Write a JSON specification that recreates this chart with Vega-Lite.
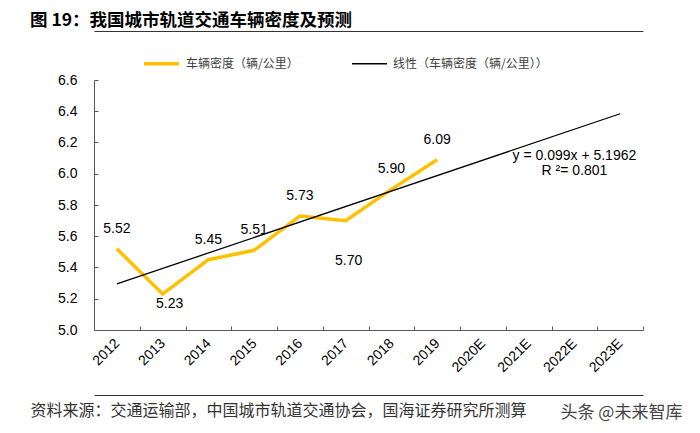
{
  "$schema": "https://vega.github.io/schema/vega-lite/v6.json",
  "width": 549,
  "height": 250,
  "autosize": {"type": "none"},
  "padding": {"left": 94, "top": 80, "right": 57, "bottom": 103},
  "background": "white",
  "config": {"view": {"stroke": null}, "font": "Liberation Sans"},
  "title": {
    "text": "图 19：我国城市轨道交通车辆密度及预测",
    "anchor": "start",
    "frame": "group",
    "dx": -64,
    "offset": 6,
    "dy": 22,
    "baseline": "bottom",
    "font": "Noto Sans CJK SC",
    "fontSize": 17.5,
    "fontWeight": "bold",
    "color": "#000000"
  },
  "data": {
    "values": [
      {"year": "2012", "value": 5.52, "series": "车辆密度（辆/公里）"},
      {"year": "2013", "value": 5.23, "series": "车辆密度（辆/公里）"},
      {"year": "2014", "value": 5.45, "series": "车辆密度（辆/公里）"},
      {"year": "2015", "value": 5.51, "series": "车辆密度（辆/公里）"},
      {"year": "2016", "value": 5.73, "series": "车辆密度（辆/公里）"},
      {"year": "2017", "value": 5.70, "series": "车辆密度（辆/公里）"},
      {"year": "2018", "value": 5.90, "series": "车辆密度（辆/公里）"},
      {"year": "2019", "value": 6.09, "series": "车辆密度（辆/公里）"},
      {"year": "2012", "value": 5.295, "series": "线性（车辆密度（辆/公里））"},
      {"year": "2023E", "value": 6.384, "series": "线性（车辆密度（辆/公里））"},
      {"year": "2022E", "value": 6.114, "series": "annotation", "label": "y = 0.099x + 5.1962"},
      {"year": "2022E", "value": 6.018, "series": "annotation", "label": "R ²= 0.801"}
    ]
  },
  "encoding": {
    "y": {
      "field": "value",
      "type": "quantitative",
      "scale": {"domain": [5.0, 6.6], "nice": false, "zero": false},
      "axis": {
        "values": [5.0, 5.2, 5.4, 5.6, 5.8, 6.0, 6.2, 6.4, 6.6],
        "format": ".1f",
        "title": null,
        "labelFontSize": 14,
        "labelColor": "#000000",
        "labelPadding": 21,
        "labelOverlap": false,
        "tickSize": -4,
        "tickColor": "#595959",
        "domainColor": "#595959",
        "grid": false
      }
    }
  },
  "layer": [
    {
      "transform": [{"filter": "datum.series === '车辆密度（辆/公里）'"}],
      "mark": {"type": "line", "strokeJoin": "miter"},
      "encoding": {
        "x": {
          "field": "year",
          "type": "ordinal",
          "bandPosition": 0.5,
          "scale": {
            "type": "band",
            "domain": ["2012", "2013", "2014", "2015", "2016", "2017", "2018", "2019", "2020E", "2021E", "2022E", "2023E"],
            "paddingInner": 0,
            "paddingOuter": 0
          },
          "axis": {
            "title": "资料来源：交通运输部，中国城市轨道交通协会，国海证券研究所测算",
            "titleX": -64,
            "titleY": 80,
            "titleAlign": "left",
            "titleAnchor": "start",
            "titleBaseline": "middle",
            "titleFont": "Noto Sans CJK SC",
            "titleFontSize": 16,
            "titleFontWeight": "normal",
            "titleColor": "#333333",
            "labelAngle": -45,
            "labelAlign": "right",
            "labelBaseline": "middle",
            "labelFontSize": 14,
            "labelColor": "#000000",
            "labelPadding": 15,
            "labelOverlap": false,
            "tickBand": "extent",
            "tickSize": -4,
            "tickColor": "#595959",
            "domainColor": "#595959",
            "grid": false
          }
        },
        "color": {
          "field": "series",
          "type": "ordinal",
          "scale": {
            "domain": ["车辆密度（辆/公里）", "线性（车辆密度（辆/公里））"],
            "range": ["#FFC000", "#000000"]
          },
          "legend": {
            "orient": "none",
            "legendX": 48,
            "legendY": -36,
            "direction": "horizontal",
            "title": null,
            "symbolType": "stroke",
            "symbolSize": 1225,
            "labelFont": "Noto Sans CJK SC",
            "labelFontSize": 12,
            "labelColor": "#404040",
            "labelOffset": 5,
            "columnPadding": 50,
            "padding": 0
          }
        },
        "strokeWidth": {
          "field": "series",
          "type": "ordinal",
          "scale": {
            "domain": ["车辆密度（辆/公里）", "线性（车辆密度（辆/公里））"],
            "range": [3.5, 1.3]
          },
          "legend": {
            "orient": "none",
            "legendX": 48,
            "legendY": -36,
            "direction": "horizontal",
            "title": null,
            "symbolType": "stroke",
            "symbolSize": 1225,
            "labelFont": "Noto Sans CJK SC",
            "labelFontSize": 12,
            "labelColor": "#404040",
            "labelOffset": 5,
            "columnPadding": 50,
            "padding": 0
          }
        }
      }
    },
    {
      "transform": [{"filter": "datum.series === '线性（车辆密度（辆/公里））'"}],
      "mark": {"type": "line"},
      "encoding": {
        "x": {
          "field": "year",
          "type": "ordinal",
          "bandPosition": 0.5,
          "axis": {
            "orient": "top",
            "offset": 49,
            "labels": false,
            "ticks": false,
            "title": null,
            "domainColor": "#333333",
            "domainWidth": 1.2,
            "grid": false
          }
        },
        "color": {"field": "series", "type": "ordinal"},
        "strokeWidth": {"field": "series", "type": "ordinal"}
      }
    },
    {
      "transform": [
        {"filter": "datum.series === '车辆密度（辆/公里）' && datum.year !== '2013' && datum.year !== '2017'"}
      ],
      "mark": {"type": "text", "dy": -20, "baseline": "middle", "fontSize": 14, "color": "#000000"},
      "encoding": {
        "x": {"field": "year", "type": "ordinal", "bandPosition": 0.5, "axis": null},
        "text": {"field": "value", "type": "quantitative", "format": ".2f"}
      }
    },
    {
      "transform": [{"filter": "datum.series === '车辆密度（辆/公里）' && datum.year === '2013'"}],
      "mark": {"type": "text", "dy": 10, "dx": 7, "baseline": "middle", "fontSize": 14, "color": "#000000"},
      "encoding": {
        "x": {"field": "year", "type": "ordinal", "bandPosition": 0.5, "axis": null},
        "text": {"field": "value", "type": "quantitative", "format": ".2f"}
      }
    },
    {
      "transform": [{"filter": "datum.series === '车辆密度（辆/公里）' && datum.year === '2017'"}],
      "mark": {"type": "text", "dy": 40, "dx": 3, "baseline": "middle", "fontSize": 14, "color": "#000000"},
      "encoding": {
        "x": {"field": "year", "type": "ordinal", "bandPosition": 0.5, "axis": null},
        "text": {"field": "value", "type": "quantitative", "format": ".2f"}
      }
    },
    {
      "transform": [{"filter": "datum.series === 'annotation'"}],
      "mark": {"type": "text", "baseline": "middle", "fontSize": 14, "color": "#000000"},
      "encoding": {
        "x": {
          "field": "year",
          "type": "ordinal",
          "bandPosition": 0.5,
          "axis": {
            "orient": "bottom",
            "offset": 65,
            "labels": false,
            "ticks": false,
            "domainColor": "#333333",
            "domainWidth": 1.2,
            "grid": false,
            "title": "头条 @未来智库",
            "titleX": 466,
            "titleY": 17,
            "titleAlign": "left",
            "titleAnchor": "start",
            "titleBaseline": "middle",
            "titleFont": "Noto Sans CJK SC",
            "titleFontSize": 17,
            "titleFontWeight": "normal",
            "titleColor": "#444444"
          }
        },
        "text": {"field": "label"}
      }
    }
  ],
  "resolve": {"axis": {"x": "independent"}}
}
